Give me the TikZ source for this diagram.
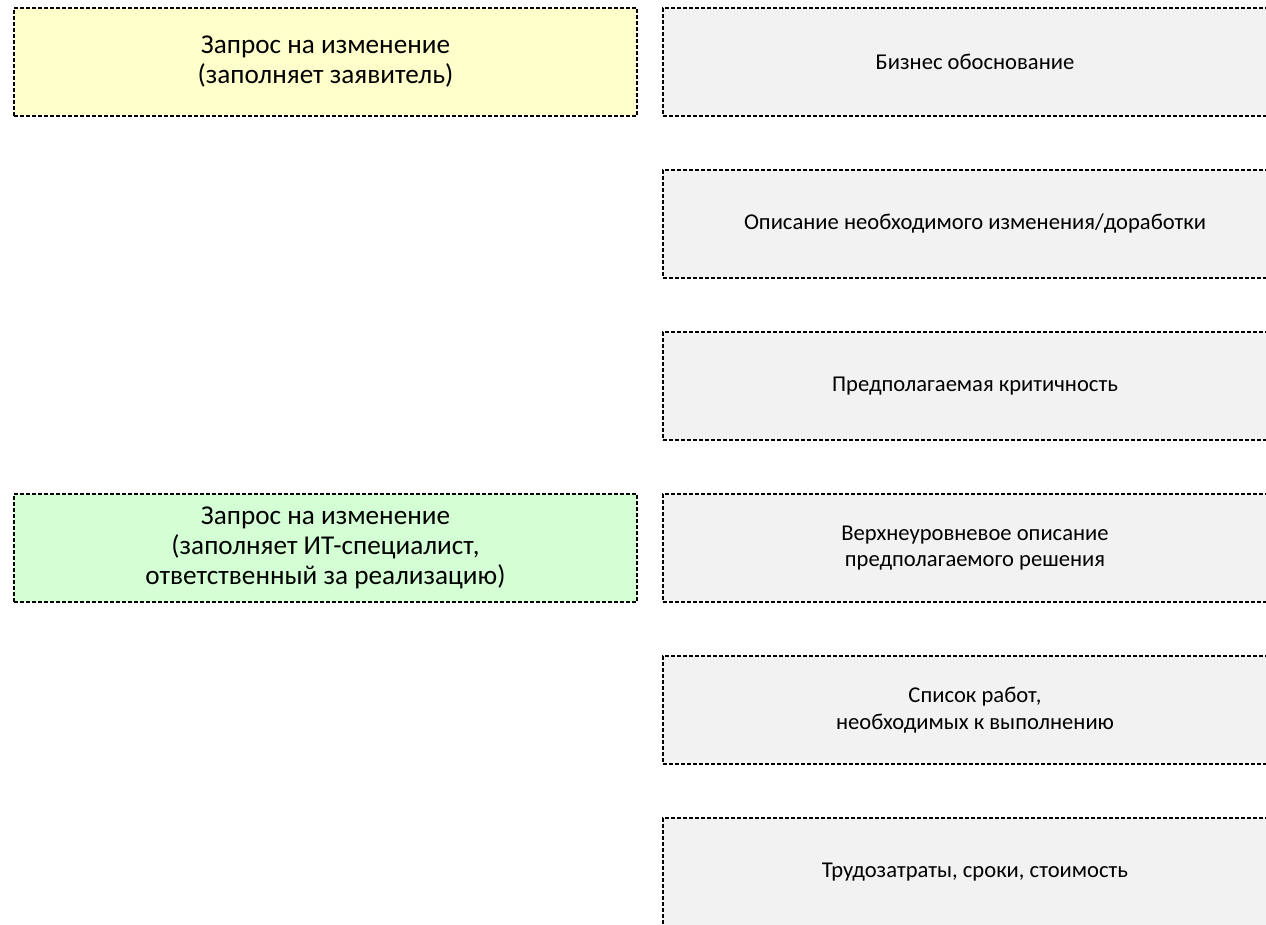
\documentclass[tikz,border=0pt]{standalone}
\usepackage{fontspec}
\setmainfont{Carlito}
\usetikzlibrary{positioning}

\definecolor{reqyellow}{RGB}{255,255,204}
\definecolor{reqgreen}{RGB}{212,255,212}
\definecolor{fieldgray}{RGB}{242,242,242}

\tikzset{
  field/.style={draw=black, line width=1pt, dash pattern=on 2pt off 1pt, fill=fieldgray,
    minimum width=312pt, minimum height=54pt, inner sep=0pt, align=center,
    font=\fontsize{11.3}{13.3}\selectfont},
  request/.style={field, minimum width=311.5pt, font=\fontsize{13.6}{15}\selectfont}
}

\begin{document}
\begin{tikzpicture}[x=0.5pt, y=-0.5pt]
 \useasboundingbox (0,0) rectangle (1266,925);
 \clip (0,0) rectangle (1266,925);

 % requests
 \node[request, fill=reqyellow] (req1) at (325.5,62) {Запрос на изменение\\(заполняет заявитель)};
 \node[request, fill=reqgreen] (req2) at (325.5,548) {Запрос на изменение\\(заполняет ИТ-специалист,\\ответственный за реализацию)};

 % fields
 \foreach \i/\txt/\n in {0/{Бизнес обоснование}/f1,
                         1/{Описание необходимого изменения/доработки}/f2,
                         2/{Предполагаемая критичность}/f3,
                         3/{Верхнеуровневое описание\\предполагаемого решения}/f4,
                         4/{Список работ,\\необходимых к выполнению}/f5,
                         5/{Трудозатраты, сроки, стоимость}/f6} {
   \node[field] (\n) at (975,62+\i*162) {\txt};
 }

\end{tikzpicture}
\end{document}
